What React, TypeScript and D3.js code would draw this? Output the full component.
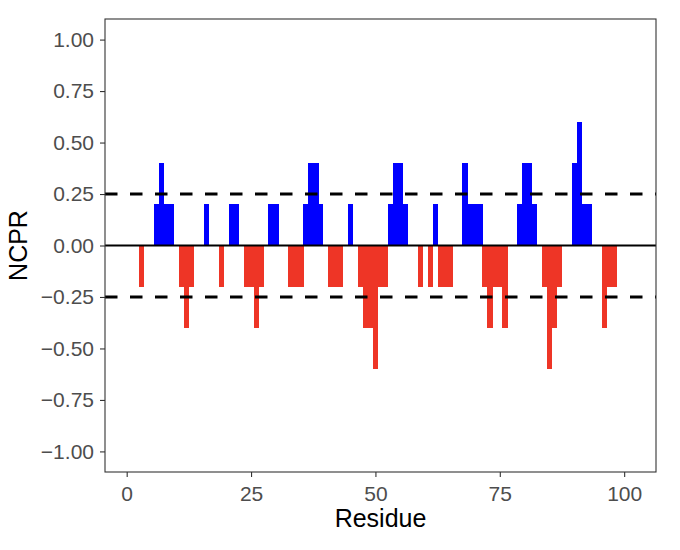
import { useEffect, useRef } from "react";
import * as d3 from "d3";

// NCPR per residue (only non-zero residues listed)
const residues = [
  3, 6, 7, 8, 9, 11, 12, 13, 16, 19, 21, 22, 24, 25, 26, 27, 29, 30,
  33, 34, 35, 36, 37, 38, 39, 41, 42, 43, 45, 47, 48, 49, 50, 51, 52,
  53, 54, 55, 56, 59, 61, 62, 63, 64, 65, 68, 69, 70, 71, 72, 73, 74,
  75, 76, 79, 80, 81, 82, 84, 85, 86, 87, 90, 91, 92, 93, 96, 97, 98,
];
const ncpr = [
  -0.2, 0.2, 0.4, 0.2, 0.2, -0.2, -0.4, -0.2, 0.2, -0.2, 0.2, 0.2, -0.2, -0.2, -0.4, -0.2, 0.2, 0.2,
  -0.2, -0.2, -0.2, 0.2, 0.4, 0.4, 0.2, -0.2, -0.2, -0.2, 0.2, -0.2, -0.4, -0.4, -0.6, -0.2, -0.2,
  0.2, 0.4, 0.4, 0.2, -0.2, -0.2, 0.2, -0.2, -0.2, -0.2, 0.4, 0.2, 0.2, 0.2, -0.2, -0.4, -0.2,
  -0.2, -0.4, 0.2, 0.4, 0.4, 0.2, -0.2, -0.6, -0.4, -0.2, 0.4, 0.6, 0.2, 0.2, -0.4, -0.2, -0.2,
];
const xTicks = [0, 25, 50, 75, 100];
const yTicks = [-1, -0.75, -0.5, -0.25, 0, 0.25, 0.5, 0.75, 1];
const thresholds = [0.25, -0.25];

const FONT = "Liberation Sans, Arial, sans-serif";

export default function App() {
  const svgRef = useRef<SVGSVGElement>(null);

  useEffect(() => {
    if (!svgRef.current) return;
    const svg = d3.select(svgRef.current);
    svg.selectAll("*").remove();

    const width = 680;
    const height = 550;
    const margin = { top: 19, right: 24, bottom: 78, left: 105 };
    const innerW = width - margin.left - margin.right;
    const innerH = height - margin.top - margin.bottom;

    const data = residues.map((r, i) => ({ residue: r, value: ncpr[i] }));

    const x = d3.scaleLinear().domain([-4.36, 106.4]).range([0, innerW]);
    const y = d3.scaleLinear().domain([-1.1, 1.1]).range([innerH, 0]);

    const g = svg
      .append("g")
      .attr("transform", `translate(${margin.left},${margin.top})`);

    // Bars, crisp so neighbours merge without seams
    g.selectAll("rect.bar")
      .data(data)
      .enter()
      .append("rect")
      .attr("class", "bar")
      .attr("x", (d) => x(d.residue - 0.5))
      .attr("width", x(1) - x(0) + 0.3)
      .attr("y", (d) => (d.value > 0 ? y(d.value) : y(0)))
      .attr("height", (d) => Math.abs(y(d.value) - y(0)))
      .attr("fill", (d) => (d.value > 0 ? "#0000FF" : "#EE3526"))
      .attr("shape-rendering", "crispEdges");

    // Threshold lines
    g.selectAll("line.thr")
      .data(thresholds)
      .enter()
      .append("line")
      .attr("class", "thr")
      .attr("x1", 0)
      .attr("x2", innerW)
      .attr("y1", (d) => y(d))
      .attr("y2", (d) => y(d))
      .attr("stroke", "#000")
      .attr("stroke-width", 3)
      .attr("stroke-dasharray", "12.5,12.5");

    // Zero line
    g.append("line")
      .attr("x1", 0)
      .attr("x2", innerW)
      .attr("y1", y(0))
      .attr("y2", y(0))
      .attr("stroke", "#000")
      .attr("stroke-width", 2);

    // Panel border
    g.append("rect")
      .attr("width", innerW)
      .attr("height", innerH)
      .attr("fill", "none")
      .attr("stroke", "#333333")
      .attr("stroke-width", 1.1);

    // Axes
    const xAxis = g
      .append("g")
      .attr("transform", `translate(0,${innerH})`)
      .call(d3.axisBottom(x).tickValues(xTicks).tickSize(5).tickPadding(9).tickFormat(d3.format("d")));
    const yAxis = g
      .append("g")
      .call(d3.axisLeft(y).tickValues(yTicks).tickSize(5).tickPadding(6).tickFormat(d3.format(".2f")));

    [xAxis, yAxis].forEach((ax) => {
      ax.select(".domain").remove();
      ax.selectAll(".tick line").attr("stroke", "#333333").attr("stroke-width", 1.1);
      ax.selectAll(".tick text")
        .attr("fill", "#4D4D4D")
        .attr("font-family", FONT)
        .attr("font-size", "21px");
    });
    yAxis.selectAll(".tick text").text((d) => {
      const v = d as number;
      return v < 0 ? "\u2212" + d3.format(".2f")(-v) : d3.format(".2f")(v);
    });

    // Axis titles
    svg
      .append("text")
      .attr("x", margin.left + innerW / 2)
      .attr("y", 527)
      .attr("text-anchor", "middle")
      .attr("font-family", FONT)
      .attr("font-size", "25px")
      .attr("fill", "#000")
      .text("Residue");

    svg
      .append("text")
      .attr("transform", `translate(27,${margin.top + innerH / 2}) rotate(-90)`)
      .attr("text-anchor", "middle")
      .attr("font-family", FONT)
      .attr("font-size", "25px")
      .attr("fill", "#000")
      .text("NCPR");
  }, []);

  return (
    <div style={{ margin: -8 }}>
      <svg ref={svgRef} width={680} height={550} style={{ display: "block", background: "#fff" }} />
    </div>
  );
}
